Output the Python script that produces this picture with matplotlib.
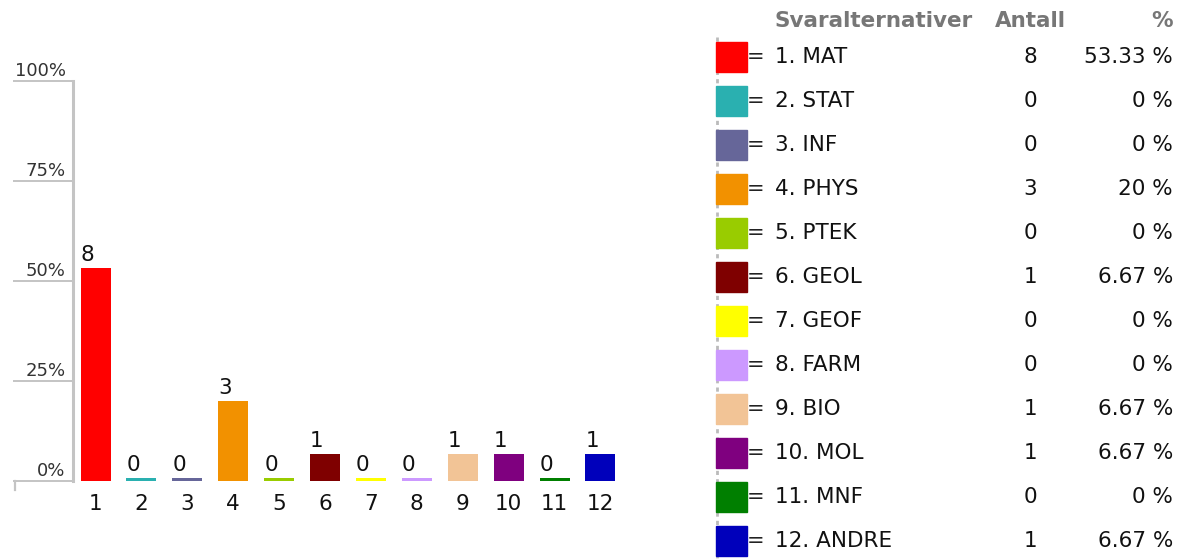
import matplotlib
matplotlib.use("Agg")
import matplotlib.pyplot as plt
from matplotlib.patches import Rectangle
from matplotlib.lines import Line2D
import matplotlib.transforms as mtransforms
import numpy as np

plt.rcParams['font.family'] = ['DejaVu Sans']

# ---- data ----
categories = ["1. MAT", "2. STAT", "3. INF", "4. PHYS", "5. PTEK", "6. GEOL",
              "7. GEOF", "8. FARM", "9. BIO", "10. MOL", "11. MNF", "12. ANDRE"]
counts = [8, 0, 0, 3, 0, 1, 0, 0, 1, 1, 0, 1]
percents = [53.33, 0, 0, 20, 0, 6.67, 0, 0, 6.67, 6.67, 0, 6.67]
pct_labels = ["53.33 %", "0 %", "0 %", "20 %", "0 %", "6.67 %", "0 %", "0 %",
              "6.67 %", "6.67 %", "0 %", "6.67 %"]
colors = ["#FF0000", "#2AB0B0", "#666699", "#F29100", "#99CC00", "#7F0000",
          "#FFFF00", "#CC99FF", "#F2C496", "#7F007F", "#007F00", "#0000BB"]
xticklabels = [str(i) for i in range(1, 13)]
yticks = [0, 25, 50, 75, 100]
ytick_labels = ["0%", "25%", "50%", "75%", "100%"]
headers = ["Svaralternativer", "Antall", "%"]

W, H, DPI = 1179, 559, 100
fig = plt.figure(figsize=(W / DPI, H / DPI), dpi=DPI)

def px(x0, y0, x1, y1):
    # figure-fraction rect from pixel box (top-left origin)
    return [x0 / W, (H - y1) / H, (x1 - x0) / W, (y1 - y0) / H]

# ---- bar chart ----
ax = fig.add_axes(px(72.6, 81, 72.6 + 12 * 45.9, 481))
ax.set_xlim(0.5, 12.5)
ax.set_ylim(0, 100)
for s in ax.spines.values():
    s.set_visible(False)

x = np.arange(1, 13)
heights = np.maximum(np.array(percents), 0.75)
ax.bar(x, heights, width=30 / 45.9, color=colors, clip_on=False)

# axis line
ax.axvline(0.5, color="#C4C4C4", lw=2.2, clip_on=False)

ax.set_yticks(yticks)
ax.set_yticklabels([])
ax.tick_params(axis='y', length=43, width=1.4, color="#C4C4C4", direction='out')

ax.set_xticks(x)
ax.set_xticklabels(xticklabels, fontsize=15.5, color="#111111")
ax.tick_params(axis='x', length=0, pad=9)

# y tick labels above tick lines
ylab_tr = mtransforms.blended_transform_factory(ax.transAxes, ax.transData) + \
    mtransforms.ScaledTranslation(-7 / DPI, 1 / DPI, fig.dpi_scale_trans)
for v, lab in zip(yticks, ytick_labels):
    ax.text(0, v, lab, transform=ylab_tr, ha='right', va='bottom',
            fontsize=13, color="#333333")

# small foot tick at bottom left
fig.add_artist(Line2D([15 / W, 15 / W], [(H - 481) / H, (H - 490) / H],
                      color="#C4C4C4", lw=1.6))

# value labels at bar left
bw = 30 / 45.9
val_tr = ax.transData + mtransforms.ScaledTranslation(0, 3 / DPI, fig.dpi_scale_trans)
for xi, h, c in zip(x, heights, counts):
    ax.text(xi - bw / 2, h, str(c), transform=val_tr, ha='left', va='bottom',
            fontsize=15.5, color="#111111")

# ---- legend table ----
lx = fig.add_axes([0, 0, 1, 1])
lx.set_xlim(0, W)
lx.set_ylim(H, 0)
lx.axis('off')
lx.patch.set_alpha(0)

hdr_c = "#777777"
lx.text(775, 21, headers[0], fontsize=15.5, fontweight='bold', color=hdr_c,
        ha='left', va='center')
lx.text(995, 21, headers[1], fontsize=15.5, fontweight='bold', color=hdr_c,
        ha='left', va='center')
lx.text(1173, 21, headers[2], fontsize=15.5, fontweight='bold', color=hdr_c,
        ha='right', va='center')

lx.plot([717, 717], [37, H], color="#BBBBBB", lw=2, ls=(0, (1.5, 1.5)), zorder=1)

row0, dy = 57, 44
for i, (cat, cnt, pl, col) in enumerate(zip(categories, counts, pct_labels, colors)):
    yc = row0 + i * dy
    lx.add_patch(Rectangle((716, yc - 15), 31, 30, color=col, zorder=2))
    lx.text(747, yc, "=", fontsize=15, color="#222222", ha='left', va='center')
    lx.text(775, yc, cat, fontsize=15.5, color="#111111", ha='left', va='center')
    lx.text(1030, yc, str(cnt), fontsize=15.5, color="#111111", ha='center', va='center')
    lx.text(1173, yc, pl, fontsize=15.5, color="#111111", ha='right', va='center')

fig.savefig("out.png", dpi=DPI)
